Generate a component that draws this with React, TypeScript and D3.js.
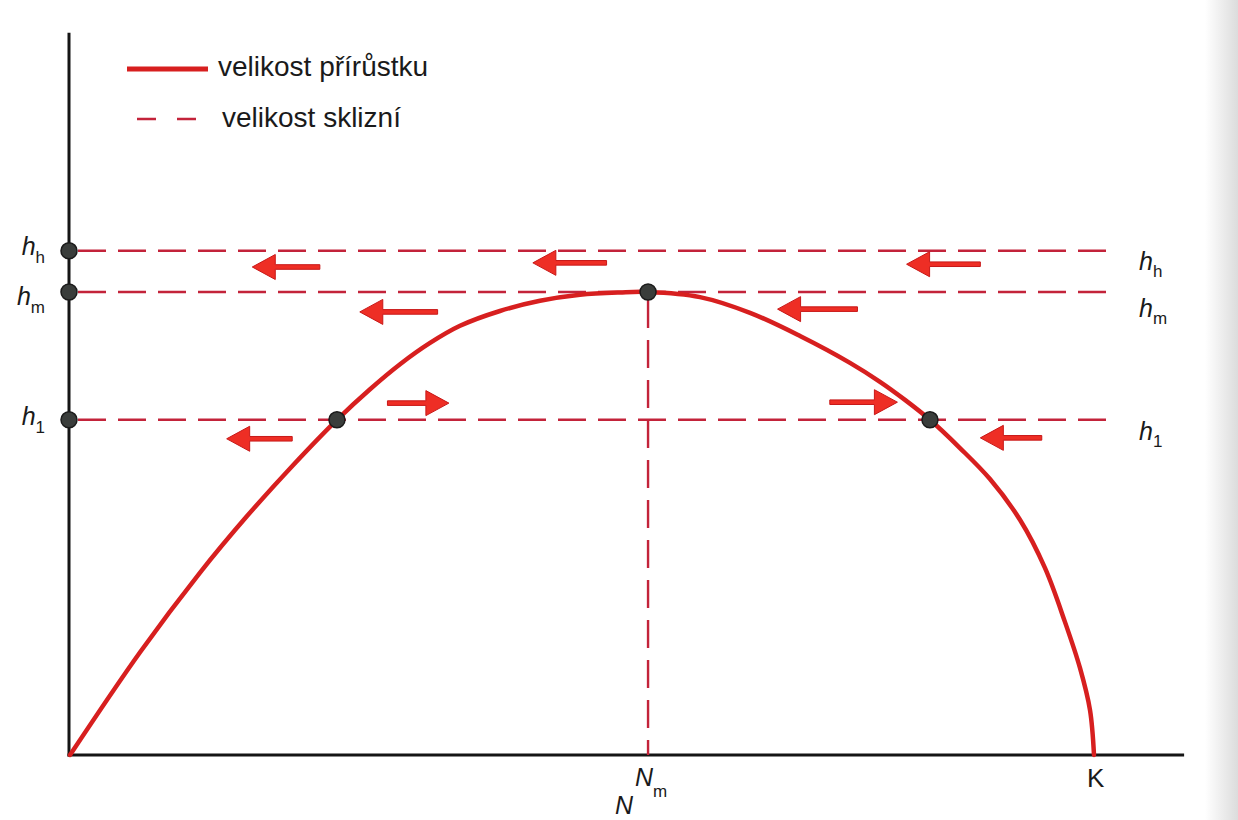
import * as d3 from "d3";

const W = 1238;
const H = 820;

// křivka přírůstku, N (K = 100) vs. velikost přírůstku (maximum = 100)
const curveN = [0, 6.84, 12.7, 17.29, 21.78, 26.07, 29.3, 32.23, 35.16, 38.09, 41.99, 45.9, 49.8, 53.71, 56.45, 61.52, 66.41, 71.29, 76.17, 79.1, 81.54, 83.98, 86.91, 89.84, 92.77, 95.21, 97.17, 98.63, 99.61, 100];
const curveG = [0, 22.2, 39.4, 51.6, 62.6, 72.4, 79.0, 84.4, 89.0, 92.7, 95.9, 98.1, 99.4, 99.9, 100, 98.9, 95.5, 90.5, 84.7, 80.6, 76.7, 72.4, 66.3, 59.6, 50.8, 40.4, 28.7, 18.8, 9.7, 0];

// úrovně sklizně
const harvestKeys = ["h", "m", "1"];
const harvestLevels = [108.9, 100, 72.4];
const harvestEnd = 101.9;

// rovnovážné body
const eqN = [26.07, 56.45, 83.98];
const eqG = [72.4, 100, 72.4];
const Nm = 56.45;

// šipky: ocas, hrot, výška
const arrowTail = [24.4, 52.4, 88.9, 35.9, 76.9, 31.0, 74.2, 21.7, 94.9];
const arrowTip = [17.8, 45.2, 81.7, 28.3, 69.1, 37.0, 80.8, 15.3, 88.9];
const arrowG = [105.4, 106.3, 106.0, 95.7, 96.3, 76.0, 76.2, 68.3, 68.5];

const legendLabels = ["velikost přírůstku", "velikost sklizní"];

const x = d3.scaleLinear().domain([0, 100]).range([70, 1094]);
const y = d3.scaleLinear().domain([0, 100]).range([755, 292]);

const RED = "#d71f1f";
const DASH_RED = "#c3233a";
const FONT = "'Liberation Sans', Arial, sans-serif";

const App = () => {
  const line = d3
    .line<number>()
    .x((_, i) => x(curveN[i]))
    .y((d) => y(d))
    .curve(d3.curveCatmullRom.alpha(0.5));

  const arrowPath = (i: number) => {
    const x1 = x(arrowTail[i]);
    const x2 = x(arrowTip[i]);
    const yy = y(arrowG[i]);
    const dir = Math.sign(x2 - x1);
    const hb = x2 - dir * 23;
    return `M${x1},${yy - 2.3}L${hb},${yy - 2.3}L${hb},${yy - 12.5}L${x2},${yy}L${hb},${yy + 12.5}L${hb},${yy + 2.3}L${x1},${yy + 2.3}Z`;
  };

  const leftY = [255, 305, 425];
  const rightY = [270, 317, 440];

  return (
    <div style={{ position: "absolute", left: 0, top: 0 }}>
      <svg width={W} height={H} style={{ display: "block", background: "#fff" }}>
        <defs>
          <linearGradient id="okraj" x1="0" x2="1" y1="0" y2="0">
            <stop offset="0" stopColor="#ffffff" />
            <stop offset="1" stopColor="#dcdcdc" />
          </linearGradient>
        </defs>
        <rect x={1205} y={0} width={33} height={H} fill="url(#okraj)" />

        {/* osy */}
        <line x1={x(0) - 1} x2={x(0) - 1} y1={y(156)} y2={y(0) + 1.5} stroke="#151515" strokeWidth={3} />
        <line x1={x(0) - 2.5} x2={x(108.8)} y1={y(0)} y2={y(0)} stroke="#151515" strokeWidth={3} />

        {/* úrovně sklizně */}
        {harvestLevels.map((h, i) => (
          <line
            key={"h" + i}
            x1={x(0) + 8}
            x2={x(harvestEnd)}
            y1={y(h)}
            y2={y(h)}
            stroke={DASH_RED}
            strokeWidth={2.6}
            strokeDasharray="28 12"
          />
        ))}
        <line
          x1={x(Nm)}
          x2={x(Nm)}
          y1={y(100) + 8}
          y2={y(0)}
          stroke={DASH_RED}
          strokeWidth={2.4}
          strokeDasharray="28 12"
        />

        {/* křivka přírůstku */}
        <path d={line(curveG) ?? ""} fill="none" stroke={RED} strokeWidth={4.5} strokeLinecap="round" />

        {/* šipky */}
        {arrowTail.map((_, i) => (
          <path key={"a" + i} d={arrowPath(i)} fill="#ee2e25" stroke="#c81818" strokeWidth={1} strokeLinejoin="round" />
        ))}

        {/* body */}
        {harvestLevels.map((h, i) => (
          <circle key={"d" + i} cx={x(0) - 1} cy={y(h)} r={8} fill="#3a3d3b" stroke="#1b1b1b" strokeWidth={1.5} />
        ))}
        {eqN.map((n, i) => (
          <circle key={"e" + i} cx={x(n)} cy={y(eqG[i])} r={8} fill="#3a3d3b" stroke="#1b1b1b" strokeWidth={1.5} />
        ))}

        {/* popisky úrovní */}
        {harvestKeys.map((k, i) => (
          <g key={"l" + i} fontFamily={FONT} fill="#1a1a1a">
            <text x={45} y={leftY[i]} fontSize={25} textAnchor="end">
              <tspan fontStyle="italic">h</tspan>
              <tspan fontSize={17} dy={8}>{k}</tspan>
            </text>
            <text x={1139} y={rightY[i]} fontSize={25}>
              <tspan fontStyle="italic">h</tspan>
              <tspan fontSize={17} dy={7}>{k}</tspan>
            </text>
          </g>
        ))}

        {/* popisky osy N */}
        <g fontFamily={FONT} fill="#1a1a1a">
          <text x={635} y={786} fontSize={25}>
            <tspan fontStyle="italic">N</tspan>
            <tspan fontSize={17} dy={11}>m</tspan>
          </text>
          <text x={615} y={814} fontSize={25} fontStyle="italic">N</text>
          <text x={1087} y={787} fontSize={26}>K</text>
        </g>

        {/* legenda */}
        <line x1={127} x2={208} y1={69} y2={69} stroke={RED} strokeWidth={5} />
        <line x1={137} x2={203} y1={119} y2={119} stroke={DASH_RED} strokeWidth={2.6} strokeDasharray="19 21" />
        <g fontFamily={FONT} fill="#1a1a1a" fontSize={28}>
          <text x={218} y={76}>{legendLabels[0]}</text>
          <text x={222} y={127}>{legendLabels[1]}</text>
        </g>
      </svg>
    </div>
  );
};

export default App;
